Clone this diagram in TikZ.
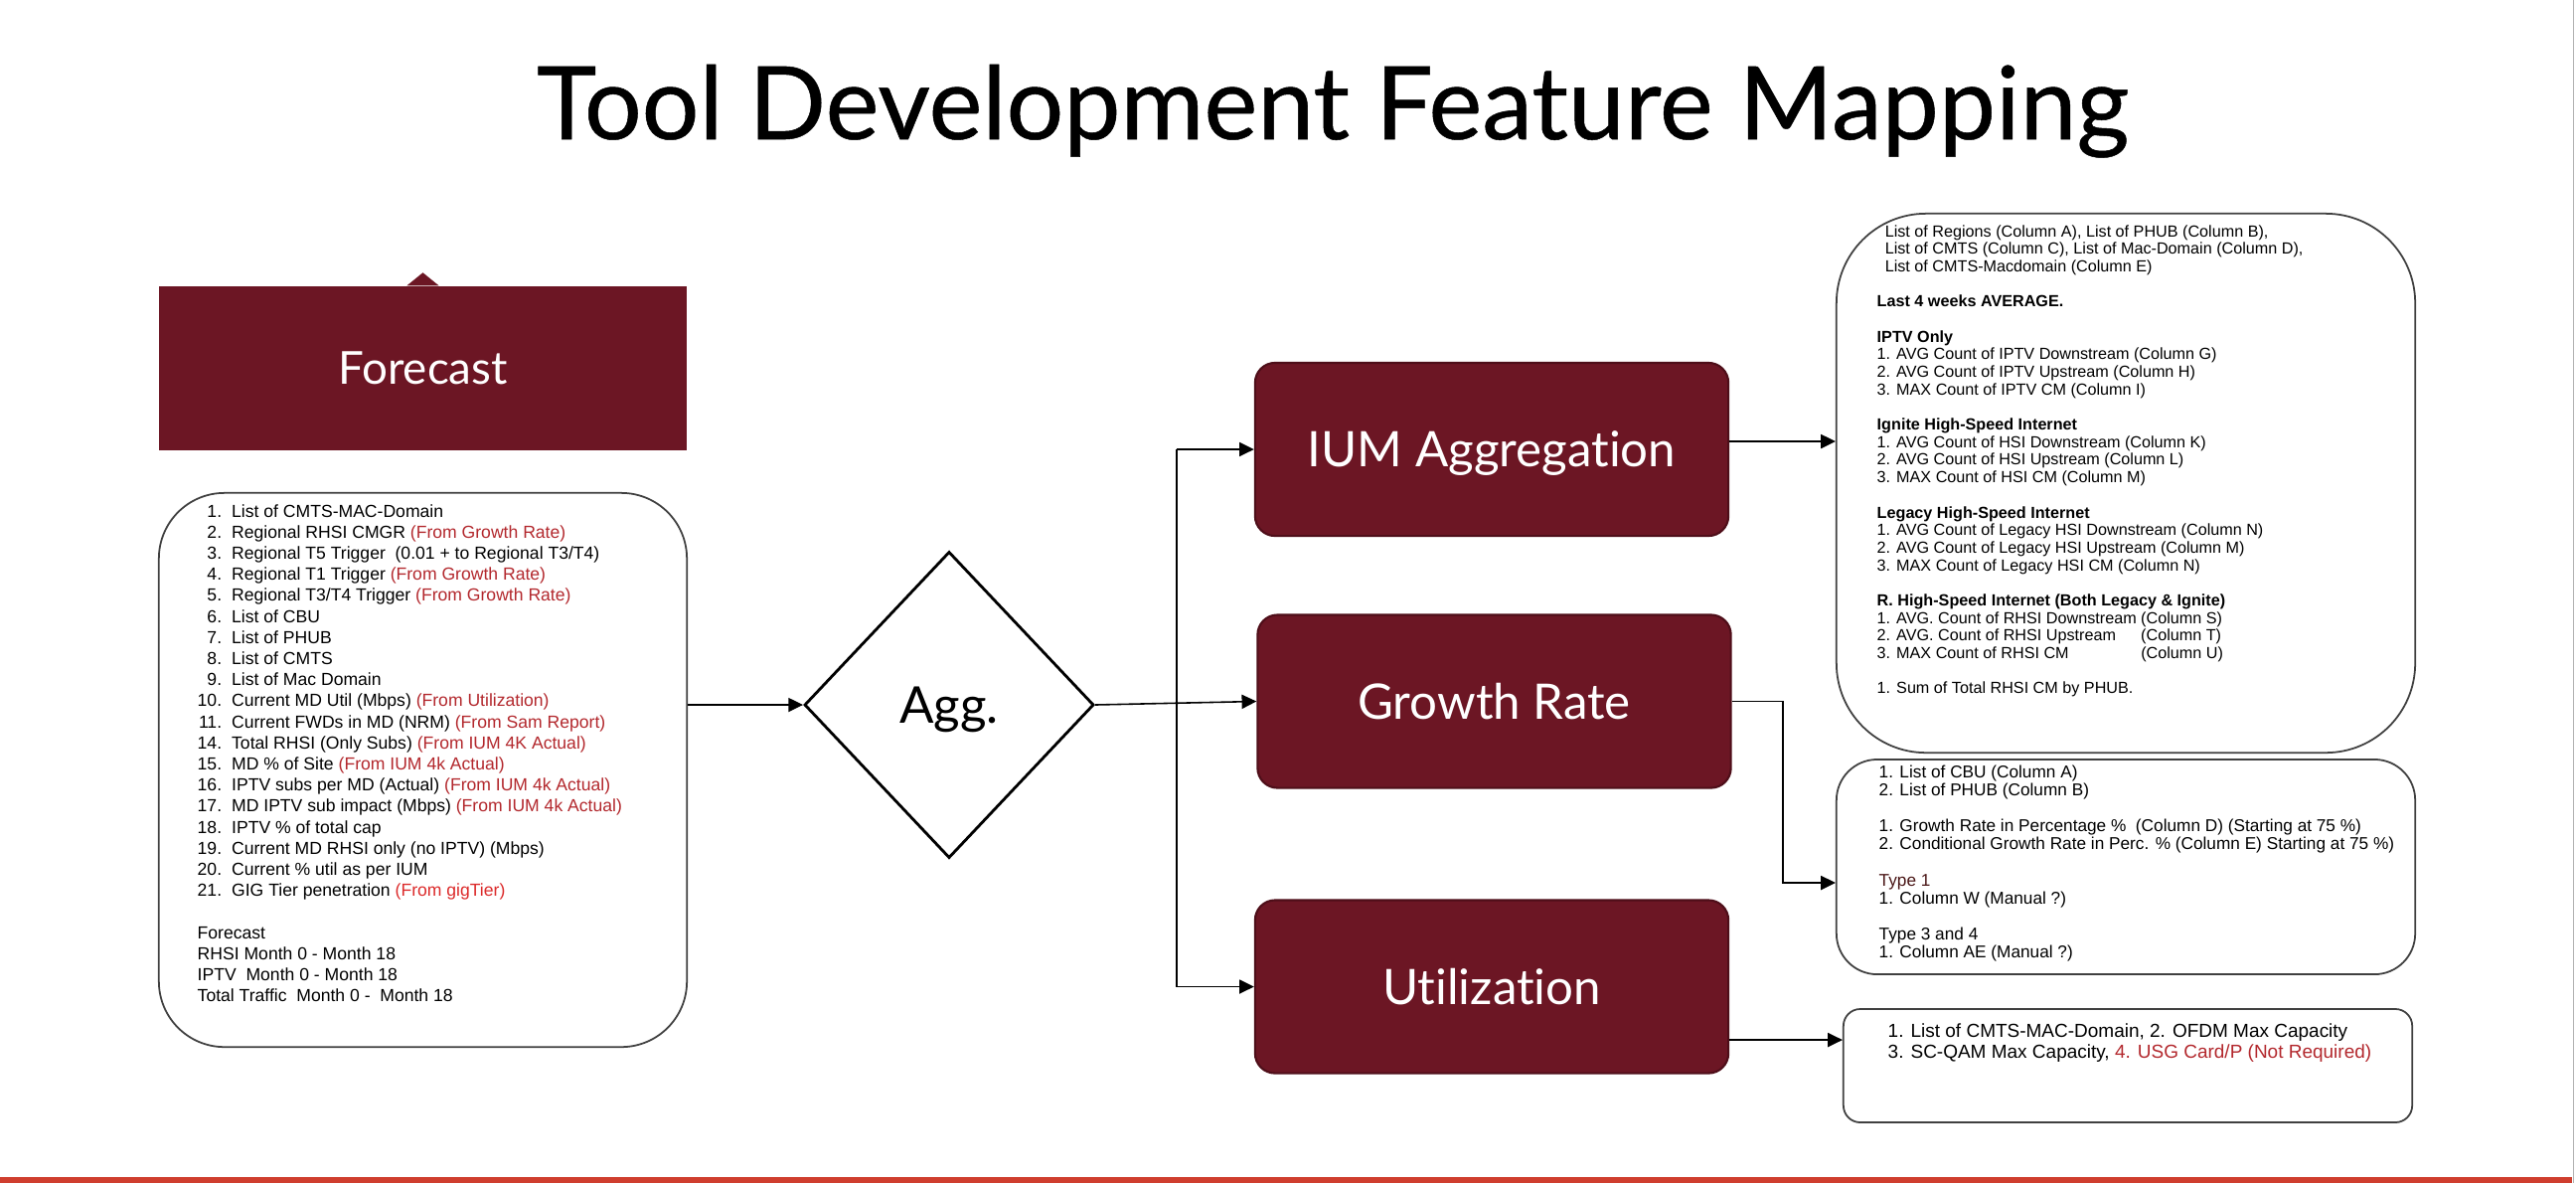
\documentclass[tikz,border=0pt]{standalone}
\usepackage{fontspec}
\setmainfont{Liberation Sans}
\newfontfamily\latofont{Lato}[Ligatures=NoCommon]
\newfontfamily\titlefont{Lato}[Ligatures=NoCommon,FakeBold=0.5]
\usetikzlibrary{arrows.meta,shapes.geometric}
\definecolor{maroon}{HTML}{6C1624}
\definecolor{maroonedge}{HTML}{4E0E19}
\definecolor{srcred}{HTML}{B3282D}
\definecolor{brightred}{HTML}{DC2A2A}
\definecolor{typebrown}{HTML}{4A1616}
\definecolor{barred}{HTML}{CF3E2E}
\newcommand{\src}[1]{\textcolor{srcred}{#1}}
\newcommand{\srcb}[1]{\textcolor{brightred}{#1}}
\newlength{\rhsiw}
\begin{document}
\begin{tikzpicture}[x=0.01cm,y=-0.01cm,
  darkbox/.style={draw=maroonedge, line width=0.6pt, fill=maroon, rounded corners=0.2cm,
    text=white, font=\latofont\fontsize{14pt}{16pt}\selectfont, text depth=0pt,
    minimum width=4.76cm, minimum height=1.74cm, inner sep=0pt},
  infobox/.style={draw=black!75, line width=0.5pt, fill=white, inner sep=0pt},
  conn/.style={line width=0.45pt, draw=black},
  arr/.style={conn, -{Triangle[length=4.2pt,width=4pt]}},
  txt/.style={anchor=base west, inner sep=0pt}]
\useasboundingbox (0,0) rectangle (2592,1190);

% title
\node[anchor=base, inner sep=0pt, font=\titlefont\fontsize{29pt}{32pt}\selectfont] (title) at (1341,140) {Tool Development Feature Mapping};

% forecast banner
\node[fill=maroon, minimum width=5.31cm, minimum height=1.65cm, inner sep=0pt, text=white,
  font=\latofont\fontsize{13pt}{15pt}\selectfont] (fc) at (425.5,370.5) {Forecast};
\fill[maroon] ([xshift=-0.16cm]fc.north) -- ([yshift=0.13cm]fc.north) -- ([xshift=0.16cm]fc.north) -- cycle;

% left list box
\node[infobox, minimum width=5.31cm, minimum height=5.57cm, rounded corners=0.66cm] (lst) at (425.5,774.5) {};
\node[txt, font=\fontsize{5pt}{6.03pt}\selectfont] (lsttext) at (198,520) {%
\begin{tabular}[t]{@{}r@{\hspace{2.85pt}}l@{}}
1. & List of CMTS-MAC-Domain\\
2. & Regional RHSI CMGR \src{(From Growth Rate)}\\
3. & Regional T5 Trigger\ \ (0.01 + to Regional T3/T4)\\
4. & Regional T1 Trigger \src{(From Growth Rate)}\\
5. & Regional T3/T4 Trigger \src{(From Growth Rate)}\\
6. & List of CBU\\
7. & List of PHUB\\
8. & List of CMTS\\
9. & List of Mac Domain\\
10. & Current MD Util (Mbps) \src{(From Utilization)}\\
11. & Current FWDs in MD (NRM) \src{(From Sam Report)}\\
14. & Total RHSI (Only Subs) \src{(From IUM 4K Actual)}\\
15. & MD \% of Site \src{(From IUM 4k Actual)}\\
16. & IPTV subs per MD (Actual) \src{(From IUM 4k Actual)}\\
17. & MD IPTV sub impact (Mbps) \src{(From IUM 4k Actual)}\\
18. & IPTV \% of total cap\\
19. & Current MD RHSI only (no IPTV) (Mbps)\\
20. & Current \% util as per IUM\\
21. & GIG Tier penetration \srcb{(From gigTier)}\\
\\
\multicolumn{2}{@{}l@{}}{Forecast}\\
\multicolumn{2}{@{}l@{}}{RHSI Month 0 - Month 18}\\
\multicolumn{2}{@{}l@{}}{IPTV\ \ Month 0 - Month 18}\\
\multicolumn{2}{@{}l@{}}{Total Traffic\ \ Month 0 -\ \ Month 18}
\end{tabular}};

% diamond
\node[diamond, draw=black, line width=0.8pt, minimum width=2.91cm, minimum height=3.08cm, inner sep=0pt,
  font=\latofont\fontsize{14.5pt}{16pt}\selectfont, text depth=0pt] (agg) at (955,709) {Agg.};

% dark boxes
\node[darkbox] (ium) at (1501,452) {IUM Aggregation};
\node[darkbox] (gr) at (1503.5,705.5) {Growth Rate};
\node[darkbox] (util) at (1501,992.5) {Utilization};

% right info boxes
\node[infobox, minimum width=5.82cm, minimum height=5.42cm, rounded corners=0.9cm] (tr) at (2139,486) {};
\node[infobox, minimum width=5.82cm, minimum height=2.16cm, rounded corners=0.41cm] (mr) at (2139,872) {};
\node[infobox, minimum width=5.72cm, minimum height=1.14cm, rounded corners=0.17cm] (br) at (2141,1072) {};

\node[txt, font=\fontsize{4.6pt}{5.03pt}\selectfont] (trtext) at (1888,238) {%
\settowidth{\rhsiw}{1. AVG. Count of RHSI Downstream\ }%
\begin{tabular}[t]{@{}l@{}}
\hspace{2.3pt}List of Regions (Column A), List of PHUB (Column B),\\
\hspace{2.3pt}List of CMTS (Column C), List of Mac-Domain (Column D),\\
\hspace{2.3pt}List of CMTS-Macdomain (Column E)\\
\\
\textbf{Last 4 weeks AVERAGE.}\\
\\
\textbf{IPTV Only}\\
1. AVG Count of IPTV Downstream (Column G)\\
2. AVG Count of IPTV Upstream (Column H)\\
3. MAX Count of IPTV CM (Column I)\\
\\
\textbf{Ignite High-Speed Internet}\\
1. AVG Count of HSI Downstream (Column K)\\
2. AVG Count of HSI Upstream (Column L)\\
3. MAX Count of HSI CM (Column M)\\
\\
\textbf{Legacy High-Speed Internet}\\
1. AVG Count of Legacy HSI Downstream (Column N)\\
2. AVG Count of Legacy HSI Upstream (Column M)\\
3. MAX Count of Legacy HSI CM (Column N)\\
\\
\textbf{R. High-Speed Internet (Both Legacy \& Ignite)}\\
1. AVG. Count of RHSI Downstream (Column S)\\
\makebox[\rhsiw][l]{2. AVG. Count of RHSI Upstream}(Column T)\\
\makebox[\rhsiw][l]{3. MAX Count of RHSI CM}(Column U)\\
\\
1. Sum of Total RHSI CM by PHUB.
\end{tabular}};

\node[txt, font=\fontsize{4.9pt}{5.17pt}\selectfont] (mrtext) at (1890,782) {%
\begin{tabular}[t]{@{}l@{}}
1. List of CBU (Column A)\\
2. List of PHUB (Column B)\\
\\
1. Growth Rate in Percentage \%\ \ (Column D) (Starting at 75 \%)\\
2. Conditional Growth Rate in Perc. \% (Column E) Starting at 75 \%)\\
\\
\textcolor{typebrown}{Type 1}\\
1. Column W (Manual ?)\\
\\
Type 3 and 4\\
1. Column AE (Manual ?)
\end{tabular}};

\node[txt, font=\fontsize{5.4pt}{6.1pt}\selectfont] (brtext) at (1899,1043) {%
\begin{tabular}[t]{@{}l@{}}
1. List of CMTS-MAC-Domain, 2. OFDM Max Capacity\\
3. SC-QAM Max Capacity, \src{4. USG Card/P (Not Required)}
\end{tabular}};

% connectors
\draw[arr] (agg.west -| lst.east) -- (agg.west);
\coordinate (split) at (1184,709);
\draw[arr] (agg.east) -- (gr.west);
\draw[conn] (split |- ium.west) -- (split |- util.west);
\draw[arr] (split |- ium.west) -- (ium.west);
\draw[arr] (split |- util.west) -- (util.west);
\coordinate (iumout) at ([yshift=0.08cm]ium.east);
\draw[arr] (iumout) -- (iumout -| tr.west);
\coordinate (grbend) at (1794,888);
\draw[arr] (gr.east) -| (grbend) -- (grbend -| mr.west);
\coordinate (utilout) at ([yshift=-0.535cm]util.east);
\draw[arr] (utilout) -- (utilout -| br.west);

% bottom bar and right edge
\fill[barred] (0,1184) rectangle (2588,1190);
\draw[black!30, line width=0.3pt] (2589,0) -- (2589,1190);
\end{tikzpicture}
\end{document}
